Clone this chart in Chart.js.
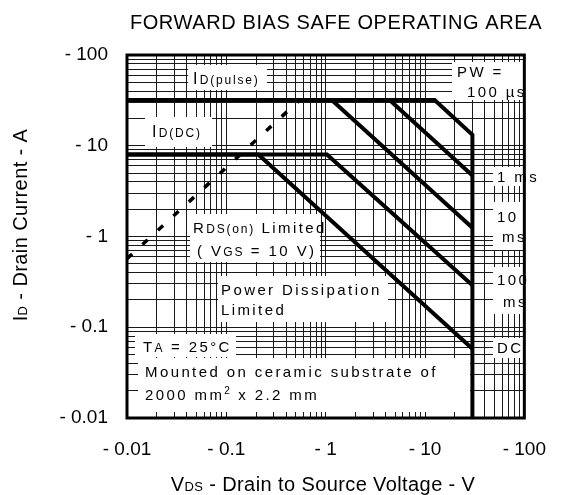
<!DOCTYPE html>
<html>
<head>
<meta charset="utf-8">
<script src="https://cdn.jsdelivr.net/npm/chart.js@4.4.1/dist/chart.umd.min.js"></script>
<style>
  html, body { margin: 0; padding: 0; background: #fff; }
</style>
</head>
<body>
<canvas id="myChart" width="566" height="495"></canvas>
<script>
const FONT = '"Liberation Sans", Arial, sans-serif'

// axis decades and their labels
const xDecades = [0.01, 0.1, 1, 10, 100]
const yDecades = [0.01, 0.1, 1, 10, 100]
const xTickLabels = ['- 0.01', '- 0.1', '- 1', '- 10', '- 100']
const yTickLabels = ['- 0.01', '- 0.1', '- 1', '- 10', '- 100']
const gridSteps = [1, 2, 3, 4, 5, 6, 7, 8, 9]

// curves: V_DS (V) and I_D (A)
const pw100usV = [0.01, 12.5, 30, 30]
const pw100usI = [32, 32, 13.2, 0.01]
const pw1msV = [4.4, 30]
const pw1msI = [32, 4.7]
const pw10msV = [1.15, 30]
const pw10msI = [32, 1.25]
const pw100msV = [0.01, 1.03, 30]
const pw100msI = [8, 8, 0.29]
const dcV = [0.01, 0.21, 30]
const dcI = [8, 8, 0.058]
const rdsV = [0.01, 0.55]
const rdsI = [0.57, 32]

function points(xs, ys) {
  return xs.map((v, i) => ({ x: v, y: ys[i] }))
}

function gridValues(decades) {
  let vals = []
  for (let i = 0; i < decades.length - 1; i++) {
    for (let s of gridSteps) vals.push(parseFloat((decades[i] * s).toPrecision(6)))
  }
  vals.push(decades[decades.length - 1])
  return vals
}

function tickText(value, decades, labels) {
  for (let i = 0; i < decades.length; i++) {
    if (Math.abs(Math.log10(value) - Math.log10(decades[i])) < 1e-6) return labels[i]
  }
  return ''
}

// text made of pieces with different sizes (subscripts), [text, size, raise]
function richText(c, parts, x, y, spacing, align) {
  c.save()
  c.fillStyle = '#000'
  c.textBaseline = 'alphabetic'
  c.textAlign = 'left'
  let widths = []
  let total = 0
  parts.forEach(p => {
    c.font = p[1] + 'px ' + FONT
    c.letterSpacing = (p[1] < 13 ? Math.min(spacing, 1.8) : spacing) + 'px'
    let w = c.measureText(p[0]).width
    widths.push(w)
    total += w
  })
  let cx = align === 'center' ? x - total / 2 : x
  parts.forEach((p, i) => {
    c.font = p[1] + 'px ' + FONT
    c.letterSpacing = (p[1] < 13 ? Math.min(spacing, 1.8) : spacing) + 'px'
    c.fillText(p[0], cx, y - (p[2] || 0))
    cx += widths[i]
  })
  c.restore()
}

// white label boxes inside the plot, pixel boxes + text lines [x, baseline, parts]
const notes = [
  { box: [188, 65, 267, 90], lines: [[193, 84, [['I', 16], ['D(pulse)', 12]]]] },
  { box: [145, 117, 212, 147], lines: [[152, 137, [['I', 16], ['D(DC)', 12]]]] },
  { box: [452, 62, 533, 100], lines: [[457, 77, [['PW =', 15]]], [467, 97, [['100 \u00b5s', 15]]]] },
  { box: [493, 167, 538, 186], lines: [[497, 182, [['1 ms', 15]]]] },
  { box: [493, 202, 531, 250], lines: [[497, 222, [['10', 15]]], [502, 242, [['ms', 15]]]] },
  { box: [493, 267, 531, 314], lines: [[497, 285, [['100', 15]]], [503, 307, [['ms', 15]]]] },
  { box: [493, 338, 528, 358], lines: [[497, 353, [['DC', 15]]]] },
  { box: [190, 214, 320, 262], lines: [[193, 233, [['R', 15], ['DS(on)', 12], [' Limited', 15]]], [197, 256, [['( V', 15], ['GS', 12], [' = 10 V)', 15]]]] },
  { box: [218, 276, 388, 322], lines: [[221, 295, [['Power Dissipation', 15]]], [221, 315, [['Limited', 15]]]] },
  { box: [135, 334, 236, 357], lines: [[143, 352, [['T', 15], ['A', 12], [' = 25\u00b0C', 15]]]] },
  { box: [138, 358, 470, 412], lines: [[145, 377, [['Mounted on ceramic substrate of', 15]]], [145, 400, [['2000 mm', 15], ['2', 10, 6], [' x 2.2 mm', 15]]]] }
]

const labelPlugin = {
  id: 'labels',
  beforeDatasetsDraw(chart) {
    const c = chart.ctx
    c.save()
    c.fillStyle = '#fff'
    notes.forEach(n => {
      c.fillRect(n.box[0], n.box[1], n.box[2] - n.box[0], n.box[3] - n.box[1])
    })
    notes.forEach(n => {
      n.lines.forEach(l => richText(c, l[2], l[0], l[1], 2.4, 'left'))
    })
    c.restore()
  },
  afterDatasetsDraw(chart) {
    const a = chart.chartArea
    const c = chart.ctx
    c.save()
    c.strokeStyle = '#000'
    c.lineWidth = 3
    c.strokeRect(a.left, a.top, a.right - a.left, a.bottom - a.top)
    c.restore()
  },
  afterDraw(chart) {
    const c = chart.ctx
    richText(c, [['FORWARD BIAS SAFE OPERATING AREA', 20]], 336, 29, 0.6, 'center')
    richText(c, [['V', 20], ['DS', 13], [' - Drain to Source Voltage - V', 20]], 323, 491, 0.4, 'center')
    c.save()
    c.translate(20, 225)
    c.rotate(-Math.PI / 2)
    richText(c, [['I', 20], ['D', 13], [' - Drain Current - A', 20]], 0, 7, 0.4, 'center')
    c.restore()
  }
}

function lineSet(xs, ys, dash) {
  return {
    data: points(xs, ys),
    showLine: true,
    borderColor: '#000',
    borderWidth: dash ? 3.5 : 4,
    borderDash: dash || [],
    borderCapStyle: 'butt',
    borderJoinStyle: 'miter',
    pointRadius: 0,
    tension: 0,
    fill: false
  }
}

let chart = new Chart(document.getElementById('myChart'), {
  type: 'scatter',
  data: {
    datasets: [
      lineSet(pw100usV, pw100usI),
      lineSet(pw1msV, pw1msI),
      lineSet(pw10msV, pw10msI),
      lineSet(pw100msV, pw100msI),
      lineSet(dcV, dcI),
      lineSet(rdsV, rdsI, [7, 14])
    ]
  },
  options: {
    responsive: false,
    animation: false,
    layout: { padding: { top: 55, right: 26, left: 0, bottom: 0 }, autoPadding: false },
    plugins: { legend: { display: false }, tooltip: { enabled: false } },
    scales: {
      x: {
        type: 'logarithmic',
        min: 0.01,
        max: 100,
        afterBuildTicks: (scale) => { scale.ticks = gridValues(xDecades).map(v => ({ value: v })) },
        afterFit: (scale) => { scale.height = 77 },
        grid: { color: '#1a1a1a', lineWidth: 1, drawTicks: false },
        border: { display: false },
        ticks: {
          autoSkip: false,
          maxRotation: 0,
          minRotation: 0,
          padding: 20,
          color: '#000',
          font: { family: FONT, size: 19 },
          callback: (value) => tickText(value, xDecades, xTickLabels)
        }
      },
      y: {
        type: 'logarithmic',
        min: 0.01,
        max: 100,
        afterBuildTicks: (scale) => { scale.ticks = gridValues(yDecades).map(v => ({ value: v })) },
        afterFit: (scale) => { scale.width = 127 },
        grid: { color: '#1a1a1a', lineWidth: 1, drawTicks: false },
        border: { display: false },
        ticks: {
          autoSkip: false,
          padding: 19,
          color: '#000',
          font: { family: FONT, size: 19 },
          callback: (value) => tickText(value, yDecades, yTickLabels)
        }
      }
    }
  },
  plugins: [labelPlugin]
})
</script>
</body>
</html>
